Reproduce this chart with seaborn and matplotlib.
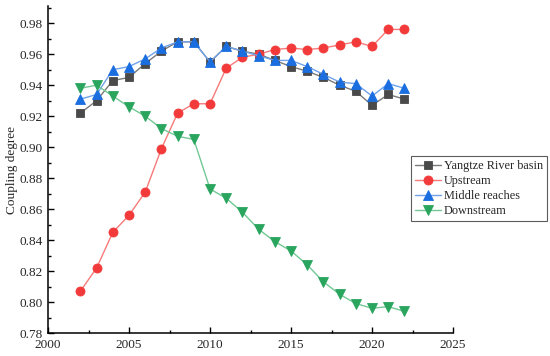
"""Coupling degree of the Yangtze River basin and its reaches, 2002-2022"""
import numpy as np
import pandas as pd
import matplotlib
matplotlib.use('Agg')
import matplotlib.pyplot as plt
from matplotlib.ticker import MultipleLocator
import seaborn as sns

years = list(range(2002, 2023))

basin = [0.922, 0.930, 0.943, 0.945, 0.954, 0.962, 0.968, 0.968, 0.955, 0.965, 0.962,
         0.960, 0.956, 0.952, 0.949, 0.945, 0.940, 0.936, 0.927, 0.934, 0.931]
upstream = [0.807, 0.822, 0.845, 0.856, 0.871, 0.899, 0.922, 0.928, 0.928, 0.951, 0.958,
            0.960, 0.963, 0.964, 0.963, 0.964, 0.966, 0.968, 0.965, 0.976, 0.976]
middle = [0.931, 0.934, 0.950, 0.952, 0.957, 0.964, 0.968, 0.968, 0.955, 0.965, 0.962,
          0.959, 0.956, 0.956, 0.952, 0.947, 0.942, 0.941, 0.933, 0.941, 0.938]
downstream = [0.938, 0.940, 0.933, 0.926, 0.920, 0.912, 0.907, 0.905, 0.873, 0.867, 0.858,
              0.847, 0.839, 0.833, 0.824, 0.813, 0.805, 0.799, 0.796, 0.797, 0.794]

names = ['Yangtze River basin', 'Upstream', 'Middle reaches', 'Downstream']

sns.set_style('ticks')
plt.rcParams['font.family'] = ['Liberation Serif', 'DejaVu Serif']

df = pd.DataFrame({'year': years * 4,
                   'value': basin + upstream + middle + downstream,
                   'series': np.repeat(names, len(years))})

fig = plt.figure(figsize=(5.5, 3.56), dpi=100)
ax = fig.add_axes([0.0873, 0.0646, 0.7364, 0.918])

# marker colour, line colour, marker, size
styles = {
    'Yangtze River basin': ('#4a4a4a', '#7a7a7a', 's', 5.2),
    'Upstream': ('#f23a3a', '#f77a7a', 'o', 6.5),
    'Middle reaches': ('#1a6ee0', '#6fa2ea', '^', 7),
    'Downstream': ('#2aa55e', '#72c895', 'v', 7),
}

for name in names:
    mc, lc, mk, ms = styles[name]
    sub = df[df['series'] == name]
    sns.lineplot(data=sub, x='year', y='value', ax=ax, color=lc, lw=1.0,
                 marker=mk, markersize=ms, markerfacecolor=mc,
                 markeredgecolor=mc, markeredgewidth=0.6, label=name)

ax.set_xlim(2000, 2025)
ax.set_ylim(0.78, 0.991)
ax.xaxis.set_major_locator(MultipleLocator(5))
ax.xaxis.set_minor_locator(MultipleLocator(2.5))
ax.yaxis.set_major_locator(MultipleLocator(0.02))
ax.yaxis.set_minor_locator(MultipleLocator(0.01))
ax.yaxis.set_major_formatter(matplotlib.ticker.FormatStrFormatter('%.2f'))
ax.tick_params(which='major', direction='in', length=4, width=1, labelsize=9.5, color='black', pad=4)
ax.tick_params(which='minor', direction='in', length=2.5, width=1, color='black')
ax.set_xlabel('')
ax.set_ylabel('Coupling degree', fontsize=9.5)
ax.yaxis.set_label_coords(-0.075, 0.5)

for s in ['top', 'right']:
    ax.spines[s].set_visible(False)
for s in ['left', 'bottom']:
    ax.spines[s].set_linewidth(1.1)
    ax.spines[s].set_color('black')

leg = ax.legend(loc='upper left', bbox_to_anchor=(0.747, 0.561), bbox_transform=fig.transFigure,
                borderaxespad=0, fontsize=8.8, frameon=True, fancybox=False,
                handlelength=2.2, handletextpad=0.2, borderpad=0.3, labelspacing=0.25)
leg.get_frame().set_edgecolor('#333333')
leg.get_frame().set_linewidth(0.8)

fig.savefig('out.png', dpi=100)
